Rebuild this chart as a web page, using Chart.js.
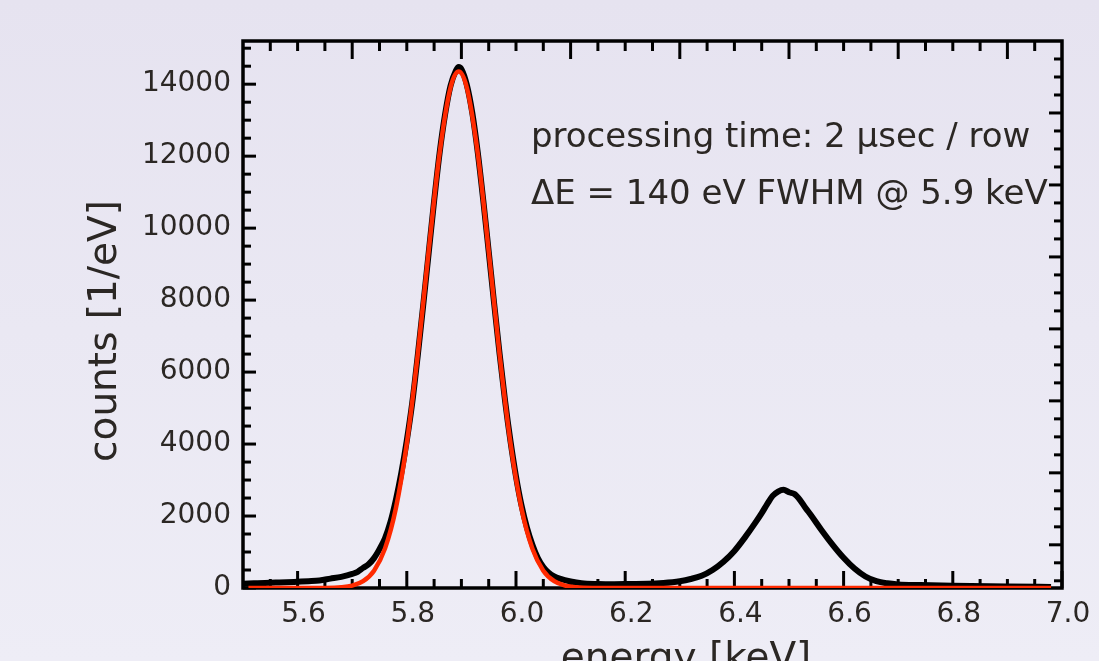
<!DOCTYPE html>
<html>
<head>
<meta charset="utf-8">
<script src="https://cdn.jsdelivr.net/npm/chart.js@4/dist/chart.umd.min.js"></script>
<style>
  html, body { margin: 0; padding: 0; overflow: hidden; }
  body { width: 1099px; height: 661px; background: linear-gradient(#e6e3f0, #eeedf6); }
  #wrap { width: 1099px; height: 661px; overflow: hidden; }
</style>
</head>
<body>
<div id="wrap"><canvas id="spec" width="1099" height="700"></canvas></div>
<script>
// measured spectrum (black)
var energy = [5.50, 5.52, 5.54, 5.56, 5.58, 5.60, 5.62, 5.64, 5.66, 5.68, 5.70, 5.71, 5.72, 5.73, 5.74, 5.75,
  5.76, 5.77, 5.78, 5.79, 5.80, 5.81, 5.82, 5.83, 5.84, 5.85, 5.86, 5.87, 5.88, 5.89, 5.895, 5.90,
  5.91, 5.92, 5.93, 5.94, 5.95, 5.96, 5.97, 5.98, 5.99, 6.00, 6.01, 6.02, 6.03, 6.04, 6.05, 6.06,
  6.07, 6.08, 6.10, 6.12, 6.15, 6.18, 6.21, 6.24, 6.27, 6.30, 6.32, 6.34, 6.36, 6.38, 6.40, 6.42,
  6.44, 6.45, 6.46, 6.47, 6.48, 6.49, 6.50, 6.51, 6.52, 6.53, 6.54, 6.56, 6.58, 6.60, 6.62, 6.64,
  6.66, 6.68, 6.70, 6.74, 6.80, 6.90, 6.98];
var counts = [120, 130, 140, 150, 160, 175, 190, 210, 260, 310, 390, 450, 560, 660, 830, 1080,
  1380, 1830, 2450, 3200, 4100, 5150, 6450, 7850, 9300, 10750, 12080, 13150, 13950, 14380, 14480, 14420,
  13980, 13200, 12100, 10780, 9350, 7900, 6500, 5200, 4070, 3100, 2300, 1680, 1200, 830, 580, 420,
  320, 260, 180, 130, 110, 105, 110, 115, 140, 190, 250, 340, 500, 730, 1030, 1420,
  1850, 2080, 2330, 2560, 2680, 2730, 2660, 2610, 2450, 2230, 2030, 1600, 1200, 840, 540, 320,
  190, 130, 100, 80, 60, 40, 30];

// gaussian fit (red)
var fitEnergy = [5.51, 5.60, 5.65, 5.68, 5.70, 5.72, 5.74, 5.76, 5.78, 5.80, 5.82, 5.84, 5.86, 5.88, 5.895,
  5.91, 5.93, 5.95, 5.97, 5.99, 6.01, 6.03, 6.05, 6.07, 6.09, 6.11, 6.14, 6.20, 6.98];
var fitCounts = [0, 0, 3, 21, 67, 189, 482, 1094, 2217, 4011, 6481, 9360, 12070, 13900, 14350,
  13900, 12070, 9360, 6481, 4011, 2217, 1094, 482, 189, 67, 21, 3, 0, 0];

// ticks
var xLabels = [5.6, 5.8, 6.0, 6.2, 6.4, 6.6, 6.8, 7.0];
var xMinor = [5.55, 5.65, 5.70, 5.75, 5.85, 5.90, 5.95, 6.05, 6.10, 6.15, 6.25, 6.30, 6.35,
  6.45, 6.50, 6.55, 6.65, 6.70, 6.75, 6.85, 6.90, 6.95];
var xTopMajor = [5.7, 5.9, 6.1, 6.3, 6.5, 6.7, 6.9];
var xTopMinor = [5.55, 5.60, 5.65, 5.75, 5.80, 5.85, 5.95, 6.00, 6.05, 6.15, 6.20, 6.25, 6.35,
  6.40, 6.45, 6.55, 6.60, 6.65, 6.75, 6.80, 6.85, 6.95];
var yLabels = [0, 2000, 4000, 6000, 8000, 10000, 12000, 14000];
var yMinor = [500, 1000, 1500, 2500, 3000, 3500, 4500, 5000, 5500, 6500, 7000, 7500, 8500, 9000,
  9500, 10500, 11000, 11500, 12500, 13000, 13500, 14500, 15000];
var yRightMajor = [1200, 3200, 5200, 7200, 9200, 11200, 13200];
var yRightMinor = [200, 700, 1700, 2200, 2700, 3700, 4200, 4700, 5700, 6200, 6700, 7700, 8200, 8700,
  9700, 10200, 10700, 11700, 12200, 12700, 13700, 14200, 14700];

var textColor = '#2b2724';
var font = 'DejaVu Sans';

function pts(xs, ys) { return xs.map(function (x, i) { return { x: x, y: ys[i] }; }); }

// frame with inward ticks on all four sides
var frame = {
  id: 'frame',
  beforeDatasetsDraw: function (chart) {
    var ctx = chart.ctx, a = chart.chartArea, xs = chart.scales.x, ys = chart.scales.y;
    ctx.save();
    ctx.strokeStyle = '#000';
    ctx.lineWidth = 3;
    ctx.lineCap = 'butt';
    function seg(x1, y1, x2, y2) { ctx.beginPath(); ctx.moveTo(x1, y1); ctx.lineTo(x2, y2); ctx.stroke(); }
    xLabels.forEach(function (v) { var p = xs.getPixelForValue(v); seg(p, a.bottom, p, a.bottom - 17); });
    xMinor.forEach(function (v) { var p = xs.getPixelForValue(v); seg(p, a.bottom, p, a.bottom - 9); });
    xTopMajor.forEach(function (v) { var p = xs.getPixelForValue(v); seg(p, a.top, p, a.top + 18); });
    xTopMinor.forEach(function (v) { var p = xs.getPixelForValue(v); seg(p, a.top, p, a.top + 10); });
    yLabels.forEach(function (v) { var p = ys.getPixelForValue(v); seg(a.left, p, a.left + 13, p); });
    yMinor.forEach(function (v) { var p = ys.getPixelForValue(v); seg(a.left, p, a.left + 8, p); });
    yRightMajor.forEach(function (v) { var p = ys.getPixelForValue(v); seg(a.right, p, a.right - 13, p); });
    yRightMinor.forEach(function (v) { var p = ys.getPixelForValue(v); seg(a.right, p, a.right - 8, p); });
    ctx.lineWidth = 3.5;
    ctx.strokeRect(a.left, a.top, a.right - a.left, a.bottom - a.top);
    ctx.restore();
  },
  afterDraw: function (chart) {
    var ctx = chart.ctx;
    ctx.save();
    ctx.fillStyle = textColor;
    ctx.textBaseline = 'middle';
    ctx.textAlign = 'left';
    ctx.font = '34px "' + font + '"';
    ctx.fillText('processing time: 2 \u00b5sec / row', 531, 138);
    ctx.fillText('\u0394E = 140 eV FWHM @ 5.9 keV', 531, 195);
    ctx.font = '39px "' + font + '"';
    ctx.textAlign = 'center';
    ctx.fillText('energy [keV]', 686, 660);
    ctx.translate(106, 331);
    ctx.rotate(-Math.PI / 2);
    ctx.fillText('counts [1/eV]', 0, 0);
    ctx.restore();
  }
};

new Chart(document.getElementById('spec'), {
  type: 'scatter',
  data: {
    datasets: [
      { label: 'fit', data: pts(fitEnergy, fitCounts), showLine: true, borderColor: '#ff2a00',
        borderWidth: 4.5, pointRadius: 0, cubicInterpolationMode: 'monotone' },
      { label: 'data', data: pts(energy, counts), showLine: true, borderColor: '#000',
        borderWidth: 6, pointRadius: 0, cubicInterpolationMode: 'monotone' }
    ]
  },
  options: {
    responsive: false,
    animation: false,
    devicePixelRatio: 1,
    layout: { padding: { left: 0, top: 41, right: 37, bottom: 0 } },
    plugins: { legend: { display: false }, tooltip: { enabled: false } },
    scales: {
      x: {
        type: 'linear', min: 5.5, max: 7.0,
        grid: { display: false, drawTicks: false },
        border: { display: false },
        afterBuildTicks: function (s) { s.ticks = xLabels.map(function (v) { return { value: v }; }); },
        afterFit: function (s) { s.height = 112; },
        ticks: { color: textColor, font: { family: font, size: 28 }, padding: 10, labelOffset: 6,
          maxRotation: 0, autoSkip: false, callback: function (v) { return v.toFixed(1); } }
      },
      y: {
        type: 'linear', min: 0, max: 15200,
        grid: { display: false, drawTicks: false },
        border: { display: false },
        afterBuildTicks: function (s) { s.ticks = yLabels.map(function (v) { return { value: v }; }); },
        afterFit: function (s) { s.width = 243; },
        ticks: { color: textColor, font: { family: font, size: 28 }, padding: 12, autoSkip: false,
          callback: function (v) { return String(v); } }
      }
    }
  },
  plugins: [frame]
});
</script>
</body>
</html>
